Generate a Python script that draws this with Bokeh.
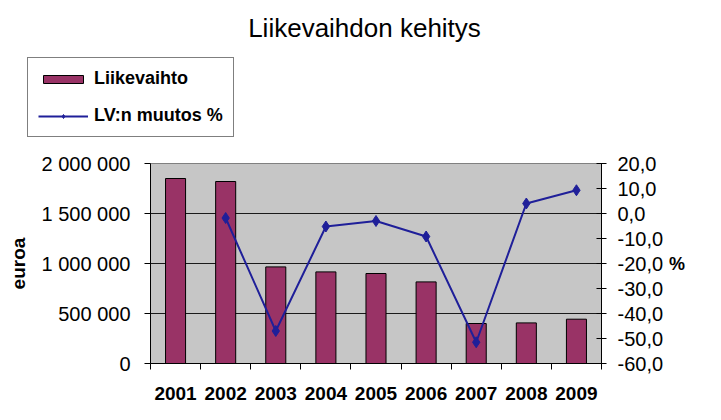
from bokeh.plotting import figure
from bokeh.layouts import column
from bokeh.models import (Range1d, LinearAxis, FixedTicker, CustomJSTickFormatter,
                          Legend, LegendItem, ColumnDataSource, Label)
from bokeh.embed import file_html
from bokeh.resources import INLINE

# ---- data ----
years = ["2001", "2002", "2003", "2004", "2005", "2006", "2007", "2008", "2009"]
revenue = [1850000, 1820000, 966000, 916000, 900000, 816000, 400000, 406000, 443000]
change_pct = [float("nan"), -1.8, -47.0, -5.2, -3.0, -9.2, -51.5, 4.0, 9.3]
left_ticks = [0, 500000, 1000000, 1500000, 2000000]
right_ticks = [-60, -50, -40, -30, -20, -10, 0, 10, 20]

title_text = "Liikevaihdon kehitys"
bar_name = "Liikevaihto"
line_name = "LV:n muutos %"
y_label = "euroa"
y2_label = "%"

FONT = "Liberation Sans"
BAR_COLOR = "#993366"
LINE_COLOR = "#1f1f99"

xpos = [i + 0.5 for i in range(len(years))]
src = ColumnDataSource(dict(x=xpos, rev=revenue, pct=change_pct, year=years))

# ---------- header: title + legend ----------
TOP_H = 143
head = figure(width=721, height=TOP_H, output_backend="svg", toolbar_location=None,
              title=None, x_axis_type=None, y_axis_type=None,
              x_range=Range1d(0, 721), y_range=Range1d(TOP_H, 0),
              min_border=0, min_border_left=0, min_border_right=0,
              min_border_top=0, min_border_bottom=0, frame_align=False,
              outline_line_color=None,
              background_fill_color="white", border_fill_color="white")
head.xgrid.grid_line_color = None
head.ygrid.grid_line_color = None
head.add_layout(Label(x=364, y=27, text=title_text, text_align="center",
                      text_baseline="alphabetic", text_font=FONT,
                      text_font_size="26px", text_color="black"))
# legend renderers share the chart data but are hidden in the header
lb = head.vbar(x="x", top="rev", width=0.4, source=src, fill_color=BAR_COLOR,
               line_color="black", line_width=1, visible=False)
ll = head.line(x="x", y="pct", source=src, line_color=LINE_COLOR, line_width=2,
               visible=False)
lm = head.scatter(x="x", y="pct", source=src, marker="diamond", size=11,
                  fill_color=LINE_COLOR, line_color=LINE_COLOR, visible=False)
legend = Legend(items=[LegendItem(label=bar_name, renderers=[lb]),
                       LegendItem(label=line_name, renderers=[ll, lm])],
                location=(27, 6), padding=10, spacing=16, label_height=21,
                glyph_width=50, glyph_height=10, label_standoff=6,
                border_line_color="black", border_line_width=1,
                background_fill_color="white", background_fill_alpha=1,
                inactive_fill_alpha=0,
                label_text_font=FONT, label_text_font_size="18px",
                label_text_font_style="bold", label_text_color="black")
head.add_layout(legend, "center")

# ---------- main chart ----------
p = figure(width=721, height=420 - TOP_H, output_backend="svg", toolbar_location=None,
           title=None, frame_align=False,
           x_range=Range1d(0, len(years)), y_range=Range1d(0, 2000000),
           min_border_left=150, min_border_right=120, min_border_top=20,
           min_border_bottom=57, background_fill_color="#c6c6c6",
           border_fill_color="white", outline_line_color="#808080")
p.extra_y_ranges = {"pct": Range1d(-60, 20)}
p.xgrid.grid_line_color = None
p.ygrid.grid_line_color = "#1a1a1a"
p.ygrid.grid_line_width = 1
p.ygrid.ticker = FixedTicker(ticks=left_ticks)

p.vbar(x="x", top="rev", width=0.4, source=src, fill_color=BAR_COLOR,
       line_color="black", line_width=1)
p.line(x="x", y="pct", source=src, y_range_name="pct", line_color=LINE_COLOR,
       line_width=2)
p.scatter(x="x", y="pct", source=src, y_range_name="pct", marker="diamond",
          size=11, fill_color=LINE_COLOR, line_color=LINE_COLOR)

# x axis
xa = p.xaxis[0]
xa.ticker = FixedTicker(ticks=xpos, minor_ticks=list(range(len(years) + 1)))
xa.major_label_overrides = {x: y for x, y in zip(xpos, years)}
xa.major_tick_out = 0
xa.major_tick_in = 0
xa.minor_tick_out = 6
xa.minor_tick_in = 0
xa.minor_tick_line_color = "black"
xa.axis_line_color = "black"
xa.major_label_standoff = 17
xa.major_label_text_font = FONT
xa.major_label_text_font_style = "bold"
xa.major_label_text_font_size = "19px"
xa.major_label_text_color = "black"

# left axis
ya = p.yaxis[0]
ya.ticker = FixedTicker(ticks=left_ticks)
ya.formatter = CustomJSTickFormatter(
    code="return Math.round(tick).toString().replace(/\\B(?=(\\d{3})+(?!\\d))/g, ' ');")
ya.major_tick_out = 6
ya.major_tick_in = 0
ya.minor_tick_line_color = None
ya.axis_line_color = "black"
ya.major_label_standoff = 14
ya.major_label_text_font = FONT
ya.major_label_text_font_size = "20px"
ya.major_label_text_color = "black"
ya.axis_label = y_label
ya.axis_label_text_font = FONT
ya.axis_label_text_font_size = "19px"
ya.axis_label_text_font_style = "bold"
ya.axis_label_text_color = "black"
ya.axis_label_standoff = 10

# right axis
ra = LinearAxis(y_range_name="pct")
ra.ticker = FixedTicker(ticks=right_ticks)
ra.formatter = CustomJSTickFormatter(code="return tick.toFixed(1).replace('.', ',');")
ra.major_tick_out = 5
ra.major_tick_in = 5
ra.minor_tick_line_color = None
ra.axis_line_color = "black"
ra.major_label_standoff = 11
ra.major_label_text_font = FONT
ra.major_label_text_font_size = "20px"
ra.major_label_text_color = "black"
ra.axis_label = y2_label
ra.axis_label_orientation = "horizontal"
ra.axis_label_standoff = 3
ra.axis_label_text_font = FONT
ra.axis_label_text_font_size = "18px"
ra.axis_label_text_font_style = "bold"
ra.axis_label_text_color = "black"
p.add_layout(ra, "right")

layout = column(head, p, spacing=0)
open("out.html", "w").write(file_html(layout, INLINE))
